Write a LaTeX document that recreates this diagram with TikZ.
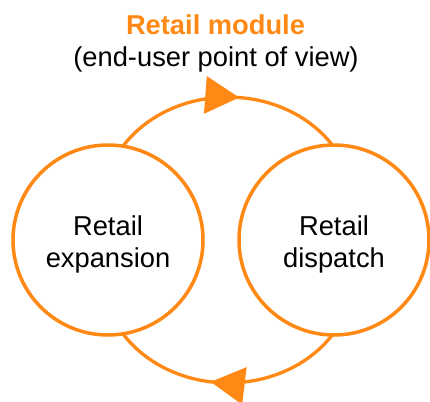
\documentclass[tikz,border=0pt]{standalone}
\usepackage{fontspec}
\setmainfont{Liberation Sans}
\usetikzlibrary{arrows.meta,decorations.markings}
\definecolor{retailorange}{RGB}{255,137,20}
\tikzset{
  bubble/.style={circle, draw=retailorange, line width=3.5pt, minimum size=190pt, inner sep=0pt, outer sep=0pt, align=center, font=\fontsize{27.3}{32}\selectfont},
  flow/.style={draw=retailorange, line width=3.3pt},
  midarrow/.style={postaction={decorate, decoration={markings, mark=at position #1 with {\arrow{Triangle[length=34pt,width=37pt]}}}}},
  titletext/.style={font=\fontsize{27.3}{32}\selectfont, inner sep=0pt, anchor=base}
}
\begin{document}
\begin{tikzpicture}[x=1pt,y=1pt]
\useasboundingbox (0,0) rectangle (430,-401);
\node[titletext, text=retailorange, font=\fontsize{27.3}{32}\selectfont\bfseries] (title) at (215.5,-35) {Retail module};
\node[titletext] (subtitle) at (216,-67) {(end-user point of view)};
\node[bubble] (L) at (108,-240) {\rule{0pt}{28pt}Retail\\expansion};
\node[bubble] (R) at (334,-240) {\rule{0pt}{28pt}Retail\\dispatch};
\draw[flow, retailorange, midarrow=0.55] (L.81) to[bend left=52] (R.91);
\draw[flow, retailorange, midarrow=0.57] (R.-91) to[bend left=52] (L.-81);
\end{tikzpicture}
\end{document}
